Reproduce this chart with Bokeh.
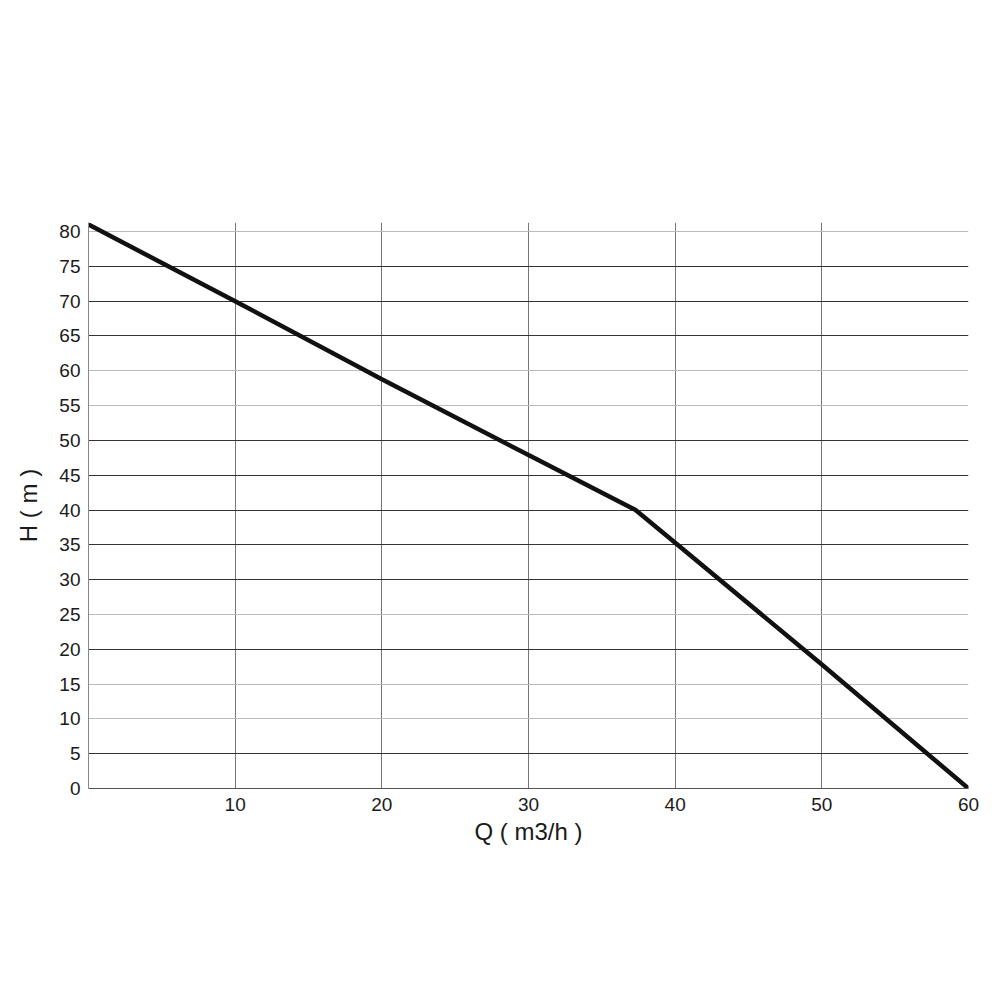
from bokeh.plotting import figure
from bokeh.models import FixedTicker, Grid
from bokeh.embed import file_html
from bokeh.resources import INLINE

# pump curve
flow = [0, 10, 20, 30, 37.3, 40, 50, 60]
head = [81.0, 70.0, 58.8, 47.9, 40.0, 35.3, 17.8, 0.0]

x_ticks = [10, 20, 30, 40, 50, 60]
y_ticks = list(range(0, 85, 5))
dark_y = [5, 20, 30, 35, 40, 45, 50, 65, 70, 75]
light_y = [10, 15, 25, 55, 60, 80]

p = figure(frame_width=880, frame_height=566, x_range=(0, 60), y_range=(0, 81.3),
           output_backend="svg", toolbar_location=None,
           min_border_left=88, min_border_top=222, min_border_right=16, min_border_bottom=90)
p.background_fill_color = "white"
p.outline_line_color = None

p.xaxis.ticker = FixedTicker(ticks=x_ticks)
p.yaxis.ticker = FixedTicker(ticks=y_ticks)

for ax in (p.xaxis, p.yaxis):
    ax.major_tick_line_color = None
    ax.minor_tick_line_color = None
    ax.major_label_text_font = "Liberation Sans"
    ax.major_label_text_font_size = "19px"
    ax.major_label_text_color = "#1a1a1a"
    ax.axis_label_text_font = "Liberation Sans"
    ax.axis_label_text_font_style = "normal"
    ax.axis_label_text_font_size = "24px"
    ax.axis_label_text_color = "#1a1a1a"
p.xaxis.axis_line_color = "#555555"
p.yaxis.axis_line_color = "#888888"
p.xaxis.major_label_standoff = 3
p.yaxis.major_label_standoff = 2
p.xaxis.axis_label = "Q ( m3/h )"
p.yaxis.axis_label = "H ( m )"
p.xaxis.axis_label_standoff = 4
p.yaxis.axis_label_standoff = 14

p.xgrid.grid_line_color = "#777777"
p.xgrid.ticker = FixedTicker(ticks=x_ticks[:-1])
p.add_layout(Grid(dimension=0, ticker=FixedTicker(ticks=[60]), grid_line_color="#cccccc"))
p.ygrid.ticker = FixedTicker(ticks=dark_y)
p.ygrid.grid_line_color = "#333333"
p.add_layout(Grid(dimension=1, ticker=FixedTicker(ticks=light_y), grid_line_color="#bbbbbb"))

p.line(flow, head, line_color="#111111", line_width=4.5)

open("out.html", "w").write(file_html(p, INLINE))
